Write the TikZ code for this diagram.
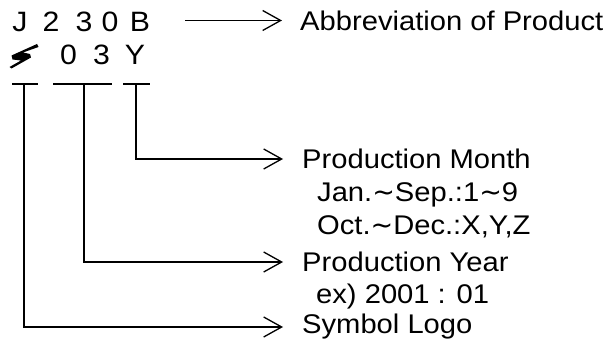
\documentclass[tikz,border=0pt]{standalone}
\usepackage{fontspec}
\setmainfont{Liberation Sans}[FakeStretch=1.08]
\newfontfamily\wavefont{DejaVu Sans}
\newcommand{\wave}{{\wavefont ∼}}
\usetikzlibrary{arrows.meta}

\begin{document}
\begin{tikzpicture}[x=1pt, y=-1pt, every node/.style={inner sep=0pt, font=\fontsize{27}{33}\selectfont}, code/.style={anchor=base, font=\fontsize{28}{33}\selectfont}, info/.style={anchor=west}, sub/.style={anchor=base west}, bar/.style={draw=black, line width=1.4pt}, conn/.style={draw=black, line width=1.3pt, -{Straight Barb[length=18pt, width=20pt]}, shorten >=19pt}]
			\useasboundingbox (0,0) rectangle (612,347);
			
			\node[code] (cJ) at (20,32) {J};
			\node[code] (c2) at (51,32) {2};
			\node[code] (c3) at (84,32) {3};
			\node[code] (c0) at (110,32) {0};
			\node[code] (cB) at (140,32) {B};
			
			\fill[black] (37,44) -- (38.5,47) -- (23,52.5) -- (30,54) -- (31,57.5) -- (11.5,68.5) -- (9.5,67) -- (21,60.5) -- (12.5,59.5) -- (11.5,55.5) -- cycle;
			\node[code] (y0) at (68.5,65) {0};
			\node[code] (y3) at (101.5,65) {3};
			\node[code] (mY) at (135,65) {Y};
			
			\draw[bar] (12,84) -- (38,84);
			\draw[bar] (53,84) -- (112,84);
			\draw[bar] (123,84) -- (150,84);
			\coordinate (tickLogo) at (24,84);
			\coordinate (tickYear) at (84,84);
			\coordinate (tickMonth) at (136,84);
			\coordinate (abbrStart) at (185,20.5);
			
			\node[info] (abbr) at (300,20.5) {Abbreviation of Product};
			\node[info] (month) at (302,159) {Production Month};
			\node[sub] (monthA) at (317,201) {Jan.\wave Sep.:1\wave 9};
			\node[sub] (monthB) at (317,234) {Oct.\wave Dec.:X,Y,Z};
			\node[info] (year) at (302,262) {Production Year};
			\node[sub] (yearA) at (316,303) {ex) 2001 : 01};
			\node[info] (logo) at (302,327) {Symbol Logo};
			
			\draw[conn, shorten >=18pt] (abbrStart) -- (abbr.west);
			\draw[conn] (tickMonth) |- (month.west);
			\draw[conn] (tickYear) |- (year.west);
			\draw[conn] (tickLogo) |- (logo.west);
\end{tikzpicture}
\end{document}
